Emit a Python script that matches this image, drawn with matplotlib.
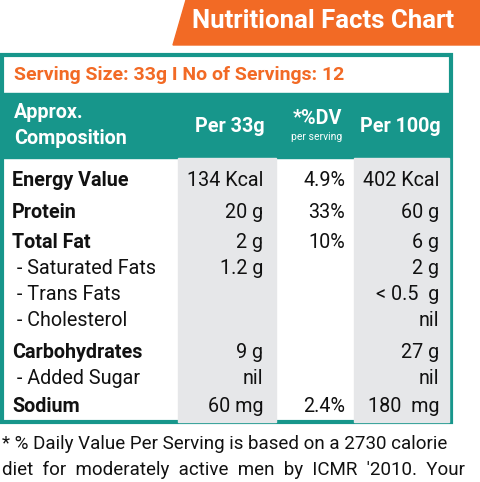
import matplotlib
matplotlib.use("Agg")
import matplotlib.pyplot as plt
from matplotlib.patches import Rectangle, Polygon
from matplotlib import font_manager as fm

names = {f.name for f in fm.fontManager.ttflist}
FAM = ['Liberation Sans Narrow', 'Liberation Sans', 'DejaVu Sans'] if 'Liberation Sans Narrow' in names else ['Roboto', 'DejaVu Sans']
plt.rcParams['font.family'] = FAM

title = "Nutritional Facts Chart"
serving = "Serving Size: 33g I No of Servings: 12"
headers = ["Per 33g", "*%DV", "Per 100g"]
nutrients = ["Energy Value", "Protein", "Total Fat", " - Saturated Fats", " - Trans Fats",
             " - Cholesterol", "Carbohydrates", " - Added Sugar", "Sodium"]
bold = [True, True, True, False, False, False, True, False, True]
per33 = ["134 Kcal", "20 g", "2 g", "1.2 g", "", "", "9 g", "nil", "60 mg"]
dv = ["4.9%", "33%", "10%", "", "", "", "", "", "2.4%"]
per100 = ["402 Kcal", "60 g", "6 g", "2 g", "< 0.5  g", "nil", "27 g", "nil", "180  mg"]
row_y = [180, 212, 242, 268, 294, 320, 352, 378, 406]
foot = ["* % Daily Value Per Serving is based on a 2730 calorie",
        "diet  for  moderately  active  men  by  ICMR  '2010.  Your"]

ORANGE = "#f26a25"; TEAL = "#17968b"; GRAY = "#e6e7e9"
FS = 14.2

fig = plt.figure(figsize=(4.8, 4.82), dpi=100)
ax = fig.add_axes([0, 0, 1, 1])
ax.set_xlim(0, 480); ax.set_ylim(482, 0); ax.axis('off')

ax.add_patch(Polygon([[173, 45], [186, 0], [480, 0], [480, 45]], color=ORANGE))
ax.text(323, 21, title, color='white', fontsize=18.5, fontweight='bold', ha='center', va='center')

ax.add_patch(Rectangle((1.5, 55), 449, 367, fill=False, ec=TEAL, lw=3))
ax.add_patch(Rectangle((1.5, 93), 449, 65, color=TEAL))
ax.add_patch(Rectangle((178, 158), 98, 264, color=GRAY))
ax.add_patch(Rectangle((354, 158), 95, 264, color=GRAY))
ax.text(14, 75, serving, color=ORANGE, fontsize=14, fontweight='bold', va='center')

ax.text(14, 112, "Approx.", color='white', fontsize=FS, fontweight='bold', va='center')
ax.text(14, 138, "Composition", color='white', fontsize=FS, fontweight='bold', va='center')
ax.text(230, 126, headers[0], color='white', fontsize=FS, fontweight='bold', ha='center', va='center')
ax.text(317, 118, headers[1], color='white', fontsize=FS, fontweight='bold', ha='center', va='center')
ax.text(317, 137, "per serving", color='white', fontsize=7.5, ha='center', va='center')
ax.text(400, 126, headers[2], color='white', fontsize=FS, fontweight='bold', ha='center', va='center')

for i, y in enumerate(row_y):
    ax.text(12, y, nutrients[i], fontsize=FS, fontweight='bold' if bold[i] else 'normal', va='center', color='#111')
    ax.text(263, y, per33[i], fontsize=FS, ha='right', va='center', color='#111')
    ax.text(345, y, dv[i], fontsize=FS, ha='right', va='center', color='#111')
    ax.text(439, y, per100[i], fontsize=FS, ha='right', va='center', color='#111')

ax.text(2, 444, foot[0], fontsize=13.5, va='center', color='#111')
ax.text(2, 470, foot[1], fontsize=13.5, va='center', color='#111')

fig.savefig("out.png", dpi=100)
